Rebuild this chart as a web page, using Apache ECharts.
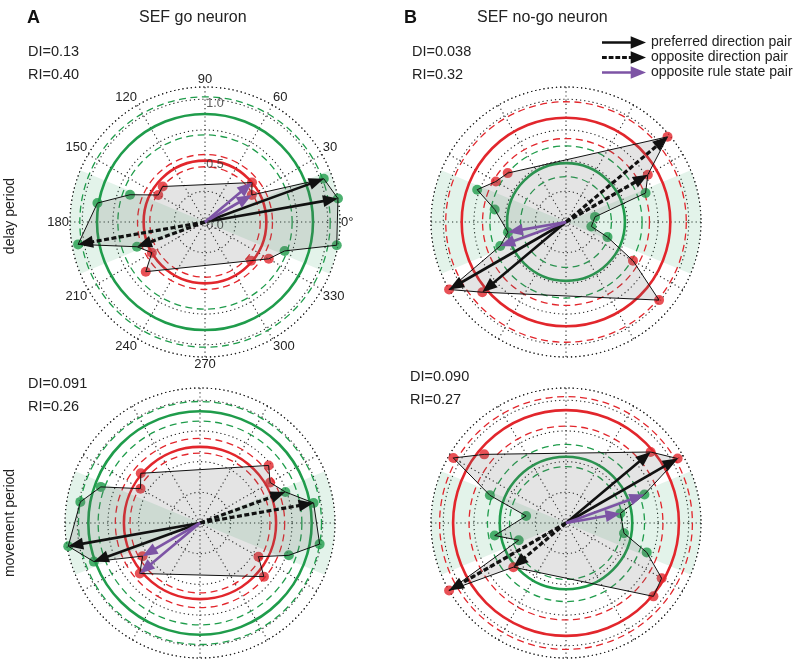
<!DOCTYPE html>
<html><head><meta charset="utf-8">
<script src="https://cdn.jsdelivr.net/npm/echarts@6/dist/echarts.min.js"></script>
<style>html,body{margin:0;padding:0;background:#fff}#c{width:800px;height:659px}</style>
</head><body><div id="c"></div>
<script>
// ---------- data ----------
const angles = [40,30,20,10,350,340,330,320,220,210,200,190,170,160,150,140];
const goAngles = [20,10,350,340,200,190,170,160];
const angleTicks = [0,30,60,90,120,150,180,210,240,270,300,330];
const ringTickValues = [0, 0.5, 1.0];
const ringTickLabels = ['0.0', '0.5', '1.0'];

// panel A top: SEF go neuron, delay period
const radiiAtop = [0.50,0.44,1.03,1.10,1.09,0.69,0.60,0.49,0.63,0.50,0.59,1.05,0.89,0.65,0.44,0.45];
const goRingAtop = [0.88,0.71,1.02];
const nogoRingAtop = [0.50,0.45,0.55];
// panel A bottom: SEF go neuron, movement period
const radiiAbot = [0.73,0.66,0.74,0.94,0.99,0.77,0.55,0.68,0.64,0.54,0.92,1.09,0.99,0.86,0.56,0.63];
const goRingAbot = [0.91,0.83,0.99];
const nogoRingAbot = [0.62,0.57,0.69];
// panel B top: SEF no-go neuron, delay period
const radiiBtop = [1.08,0.77,0.69,0.24,0.21,0.36,0.63,0.99,0.89,1.10,0.57,0.48,0.59,0.77,0.66,0.62];
const goRingBtop = [0.48,0.37,0.62];
const nogoRingBtop = [0.85,0.68,0.98];
// panel B bottom: SEF no-go neuron, movement period
const radiiBbot = [0.90,1.05,0.68,0.45,0.48,0.70,0.90,0.93,0.56,1.10,0.41,0.59,0.33,0.66,1.06,0.87];
const goRingBbot = [0.54,0.46,0.64];
const nogoRingBbot = [0.92,0.79,1.03];

// arrows: angles of the target points
const arrowsAtop = {pref:[20,10], opp:[190,200], rule:[40,30]};
const arrowsAbot = {pref:[190,200], opp:[20,10], rule:[220,210]};
const arrowsBtop = {pref:[210,220], opp:[40,30], rule:[190,200]};
const arrowsBbot = {pref:[40,30], opp:[210,220], rule:[20,10]};

const wedgeCenters = [0, 180];
const wedgeHalf = 22.5;
const RMAX = 1.1;

const texts = {
  Atop: ['DI=0.13','RI=0.40'], Btop: ['DI=0.038','RI=0.32'],
  Abot: ['DI=0.091','RI=0.26'], Bbot: ['DI=0.090','RI=0.27']
};

// ---------- styles ----------
const FONT = "'Liberation Sans', Arial, sans-serif";
const GREEN = '#1f9c4b', RED = '#e2262c', PURPLE = '#7d54a5', BLACK = '#111';
const PREF = 'preferred direction pair', OPP = 'opposite direction pair', RULE = 'opposite rule state pair';

const panels = [
  {center:[205,222], radii:radiiAtop, go:goRingAtop, nogo:nogoRingAtop, arrows:arrowsAtop, labels:true},
  {center:[200,523], radii:radiiAbot, go:goRingAbot, nogo:nogoRingAbot, arrows:arrowsAbot, labels:false},
  {center:[566,222], radii:radiiBtop, go:goRingBtop, nogo:nogoRingBtop, arrows:arrowsBtop, labels:false},
  {center:[566,523], radii:radiiBbot, go:goRingBbot, nogo:nogoRingBbot, arrows:arrowsBbot, labels:false}
];

function dist(a,b){return Math.hypot(a[0]-b[0], a[1]-b[1]);}

const polar = [], angleAxis = [], radiusAxis = [], series = [];
const dotted = {color:'#222', width:1.1, type:[1.2,3]};

panels.forEach((p, i) => {
  polar.push({center:p.center, radius:135});
  angleAxis.push({
    polarIndex:i, type:'value', min:0, max:360, interval:30, startAngle:0, clockwise:false,
    axisLine:{show:true, lineStyle:dotted},
    axisTick:{show:false},
    splitLine:{show:true, lineStyle:dotted},
    axisLabel:{show:p.labels, margin:1, color:'#222', fontSize:13, fontFamily:FONT,
      formatter:v => angleTicks.indexOf(v) < 0 ? '' : (v === 0 ? '0°' : String(v))},
    z:1
  });
  radiusAxis.push({
    polarIndex:i, type:'value', min:0, max:RMAX, interval:0.25,
    axisLine:{show:false}, axisTick:{show:false}, axisLabel:{show:false},
    splitLine:{show:true, lineStyle:dotted}, z:1
  });

  // wedges
  series.push({
    type:'custom', coordinateSystem:'polar', polarIndex:i, silent:true, z:1,
    data: wedgeCenters.map(a => [RMAX, a]),
    renderItem(params, api){
      const a = api.value(1);
      const c = api.coord([0, a]);
      const r = dist(c, api.coord([api.value(0), a]));
      return {type:'sector', shape:{cx:c[0], cy:c[1], r0:0, r:r,
        startAngle:-(a+wedgeHalf)*Math.PI/180, endAngle:-(a-wedgeHalf)*Math.PI/180, clockwise:true},
        style:{fill:'rgba(40,160,90,0.13)'}};
    }
  });

  // rings
  [[p.go, GREEN],[p.nogo, RED]].forEach(([ring, col]) => {
    series.push({
      type:'custom', coordinateSystem:'polar', polarIndex:i, silent:true, z:2,
      data: ring.map(r => [r, 0]),
      renderItem(params, api){
        const c = api.coord([0, 0]);
        const r = dist(c, api.coord([api.value(0), 0]));
        const solid = params.dataIndex === 0;
        return {type:'circle', shape:{cx:c[0], cy:c[1], r:r},
          style:{fill:null, stroke:col, lineWidth: solid ? 2.6 : 1.3, lineDash: solid ? null : [7,4.5]}};
      }
    });
  });

  // points
  const goPts = [], nogoPts = [];
  angles.forEach((a, k) => (goAngles.indexOf(a) >= 0 ? goPts : nogoPts).push([p.radii[k], a]));
  series.push({type:'scatter', coordinateSystem:'polar', polarIndex:i, silent:true, z:3,
    symbolSize:10, itemStyle:{color:GREEN}, data:goPts});
  series.push({type:'scatter', coordinateSystem:'polar', polarIndex:i, silent:true, z:3,
    symbolSize:10, itemStyle:{color:RED}, data:nogoPts});

  // polygon
  const radii = p.radii;
  series.push({
    type:'custom', coordinateSystem:'polar', polarIndex:i, silent:true, z:4,
    data: angles.map((a,k) => [radii[k], a]),
    renderItem(params, api){
      if (params.dataIndex !== 0) return null;
      const pts = angles.map((a,k) => api.coord([radii[k], a]));
      return {type:'polygon', shape:{points:pts},
        style:{fill:'rgba(105,105,105,0.18)', stroke:BLACK, lineWidth:1}};
    }
  });

  // arrows
  [[PREF, p.arrows.pref, BLACK, null, 2.6], [OPP, p.arrows.opp, BLACK, [5,2.5], 3.2], [RULE, p.arrows.rule, PURPLE, null, 2.6]]
  .forEach(([name, list, col, dash, lw]) => {
    series.push({
      name:name, type:'custom', coordinateSystem:'polar', polarIndex:i, silent:true, z:6,
      itemStyle:{color:col},
      data: list.map(a => [radii[angles.indexOf(a)], a]),
      renderItem(params, api){
        const c = api.coord([0, 0]);
        const t = api.coord([api.value(0), api.value(1)]);
        const L = dist(c, t), ux = (t[0]-c[0])/L, uy = (t[1]-c[1])/L;
        const hl = 15, hw = 6;
        const b = [t[0]-ux*hl, t[1]-uy*hl];
        return {type:'group', children:[
          {type:'line', shape:{x1:c[0], y1:c[1], x2:b[0]+ux*3, y2:b[1]+uy*3},
            style:{stroke:col, lineWidth:lw, lineDash:dash}},
          {type:'polygon', shape:{points:[t, [b[0]-uy*hw, b[1]+ux*hw], [b[0]+uy*hw, b[1]-ux*hw]]},
            style:{fill:col}}
        ]};
      }
    });
  });
});

// ring value labels (panel A top)
series.push({
  type:'scatter', coordinateSystem:'polar', polarIndex:0, silent:true, z:7, symbolSize:0,
  data: ringTickValues.map((v,k) => [v, 90, ringTickLabels[k]]),
  label:{show:true, position:'inside', offset:[10,4], formatter:p => p.value[2],
    color:'#333', fontSize:12.5, fontFamily:FONT}
});

const titles = [
  {text:'A', left:22, top:4, textStyle:{fontSize:18, fontWeight:'bold', color:'#111', fontFamily:FONT}},
  {text:'SEF go neuron', left:134, top:5, textStyle:{fontSize:16, fontWeight:'normal', color:'#222', fontFamily:FONT}},
  {text:'B', left:399, top:4, textStyle:{fontSize:18, fontWeight:'bold', color:'#111', fontFamily:FONT}},
  {text:'SEF no-go neuron', left:472, top:5, textStyle:{fontSize:16, fontWeight:'normal', color:'#222', fontFamily:FONT}}
];
[[texts.Atop, 28, 40], [texts.Btop, 412, 40], [texts.Abot, 28, 372], [texts.Bbot, 410, 365]].forEach(([t, x, y]) => {
  titles.push({text:t.join('\n'), left:x, top:y, padding:0,
    textStyle:{fontSize:14.5, fontWeight:'normal', color:'#222', fontFamily:FONT, lineHeight:23}});
});

const arrowSolid = 'path://M0,5.2h32v2.6h-32z M30,0L46,6.5L30,13z';
const arrowDash = 'path://M0,5h5v3h-5z M7,5h5v3h-5z M14,5h5v3h-5z M21,5h5v3h-5z M28,5h4v3h-4z M30,0L46,6.5L30,13z';

const option = {
  animation:false,
  backgroundColor:'#fff',
  title: titles,
  legend:{
    orient:'vertical', left:597, top:30, itemWidth:44, itemHeight:13, itemGap:0, selectedMode:false,
    textStyle:{fontSize:14, color:'#222', fontFamily:FONT, lineHeight:15},
    data:[
      {name:PREF, icon:arrowSolid, itemStyle:{color:BLACK}},
      {name:OPP, icon:arrowDash, itemStyle:{color:BLACK}},
      {name:RULE, icon:arrowSolid, itemStyle:{color:PURPLE}}
    ]
  },
  graphic:[
    {type:'text', x:10, y:216, rotation:Math.PI/2, style:{text:'delay period', fontSize:14, fontFamily:FONT, fill:'#222', align:'center', verticalAlign:'middle'}},
    {type:'text', x:10, y:523, rotation:Math.PI/2, style:{text:'movement period', fontSize:14, fontFamily:FONT, fill:'#222', align:'center', verticalAlign:'middle'}}
  ],
  polar, angleAxis, radiusAxis, series
};

const chart = echarts.init(document.getElementById('c'), null, {renderer:'canvas'});
chart.setOption(option);
</script>
</body></html>
